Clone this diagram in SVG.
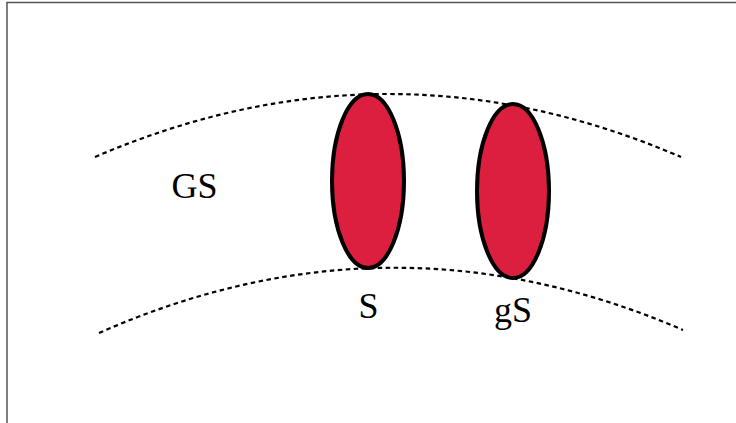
<svg xmlns="http://www.w3.org/2000/svg" width="736" height="423" viewBox="0 0 736 423">
<style>
.arc{fill:none;stroke:#000;stroke-width:2.2;stroke-dasharray:4.5,3.5}
.set{fill:#dc1e3f;stroke:#000;stroke-width:4}
.lbl{font-family:"Liberation Serif","Times New Roman",serif;font-size:36px;fill:#000;text-anchor:middle}
</style>
<rect width="736" height="423" fill="#fff"/>
<path d="M7,423 V2.5 H736" fill="none" stroke="#555" stroke-width="1.5"/>
<g id="connectors">
<path class="arc" d="M95,157 Q388,31 681,157"/>
<path class="arc" d="M99,333 Q391,204 683,330"/>
</g>
<g id="GS"><text class="lbl" x="194.5" y="198">GS</text></g>
<g id="S">
<ellipse class="set" cx="368" cy="181" rx="36" ry="87"/>
<text class="lbl" x="368.5" y="317.5">S</text>
</g>
<g id="gS">
<ellipse class="set" cx="513" cy="191" rx="36" ry="87"/>
<text class="lbl" x="513" y="322">gS</text>
</g>
</svg>
